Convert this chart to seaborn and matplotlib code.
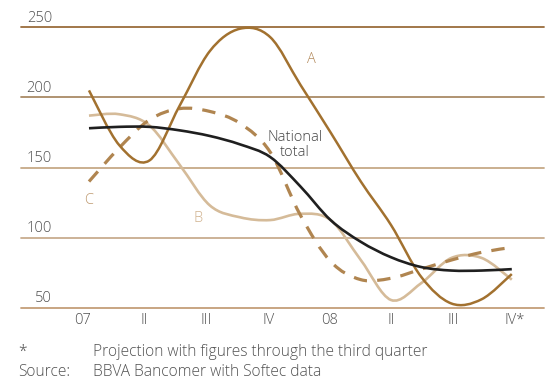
import numpy as np
import pandas as pd
import matplotlib
matplotlib.use("Agg")
import matplotlib.pyplot as plt
import seaborn as sns
from matplotlib.path import Path
from matplotlib.patches import PathPatch

# values read at half-quarter steps, 2007 Q1 .. 2008 Q4
x_vals = np.arange(15) * 0.5
series_a = [205, 166, 155, 194, 233, 249, 243, 209, 175, 140, 109, 72, 53, 56, 74]
series_b = [187, 188, 180, 152, 123, 114.5, 112.5, 117, 112.5, 84, 55.5, 67.5, 85.5, 85.5, 70]
series_c = [140, 164, 184, 192, 190, 181.5, 161, 116, 83, 70, 71, 77.5, 84, 89.5, 93]
national = [178, 179, 179, 176.5, 172.5, 166.5, 157.5, 136.5, 112.5, 97, 86, 79, 76.5, 76.5, 77.5]

tick_labels = ["07", "II", "III", "IV", "08", "II", "III", "IV*"]
y_levels = [50, 100, 150, 200, 250]
grid_colors = ["#c49e78", "#c8ad8f", "#c6a987", "#a98a66", "#9a6c3c"]

df = pd.DataFrame({"x": np.tile(x_vals, 4),
                   "value": series_a + series_b + series_c + national,
                   "series": np.repeat(["A", "B", "C", "National total"], len(x_vals))})


def smooth_path(xs, ys):
    # Catmull-Rom through the points, drawn as cubic Bezier segments
    pts = np.column_stack([xs, ys]).astype(float)
    ext = np.vstack([pts[0], pts, pts[-1]])
    verts = [pts[0]]
    codes = [Path.MOVETO]
    for i in range(1, len(ext) - 2):
        p0, p1, p2, p3 = ext[i - 1], ext[i], ext[i + 1], ext[i + 2]
        verts += [p1 + (p2 - p0) / 6, p2 - (p3 - p1) / 6, p2]
        codes += [Path.CURVE4] * 3
    return Path(verts, codes)


sns.set_style("white")
plt.rcParams["font.family"] = ["Open Sans", "DejaVu Sans"]
plt.rcParams["font.weight"] = "light"
FS = 10.5
TXT = "#505050"

fig = plt.figure(figsize=(5.52, 3.82), dpi=100)
ax = fig.add_axes([0.038, 0.1945, 0.9475, 0.734])
ax.set_xlim(-1.126, 7.533)
ax.set_ylim(50, 250)

for lvl, col in zip(y_levels, grid_colors):
    ax.axhline(lvl, color=col, lw=1.3, zorder=1, clip_on=False)
    ax.annotate(str(lvl), xy=(0.0593, lvl), xycoords=("axes fraction", "data"),
                xytext=(0, 1.0), textcoords="offset points",
                ha="right", va="bottom", fontsize=FS, color=TXT)

styles = {
    "A": dict(color="#a2712f", lw=1.8, ls="-"),
    "B": dict(color="#d5bb99", lw=1.9, ls="-"),
    "C": dict(color="#b08550", lw=2.3, ls=(0, (4.2, 3.2))),
    "National total": dict(color="#1f1f1f", lw=1.9, ls="-"),
}
for name in ["B", "C", "A", "National total"]:
    sub = df[df["series"] == name]
    st = styles[name]
    ax.add_patch(PathPatch(smooth_path(sub["x"], sub["value"]), fill=False,
                           edgecolor=st["color"], lw=st["lw"], linestyle=st["ls"],
                           capstyle="butt", zorder=3, clip_on=False))

ax.text(3.69, 226.7, "A", color="#b38a5c", fontsize=FS, ha="center", va="center")
ax.text(3.41, 166, "National\ntotal", color="#444444", fontsize=FS, ha="center",
        va="center", linespacing=1.0)
ax.text(1.80, 113.3, "B", color="#d0b28e", fontsize=FS, ha="center", va="center")
ax.text(0.0, 126.3, "C", color="#bf9a70", fontsize=FS, ha="center", va="center")

ax.set_xticks(np.arange(8) * 1.022 - 0.1)
ax.set_xticklabels(tick_labels, fontsize=FS, color=TXT)
ax.tick_params(axis="x", length=0, pad=4)
ax.set_yticks([])
for s in ax.spines.values():
    s.set_visible(False)
ax.set_xlabel("")
ax.set_ylabel("")

FN = 11.2
fig.text(0.040, 0.0785, "*", fontsize=FN, color=TXT, ha="center", va="center")
fig.text(0.1685, 0.0785, "Projection with figures through the third quarter",
         fontsize=FN, color=TXT, va="center")
fig.text(0.0326, 0.027, "Source:", fontsize=FN, color=TXT, va="center")
fig.text(0.1685, 0.027, "BBVA Bancomer with Softec data", fontsize=FN,
         color=TXT, va="center")

fig.savefig("out.png", dpi=100)
